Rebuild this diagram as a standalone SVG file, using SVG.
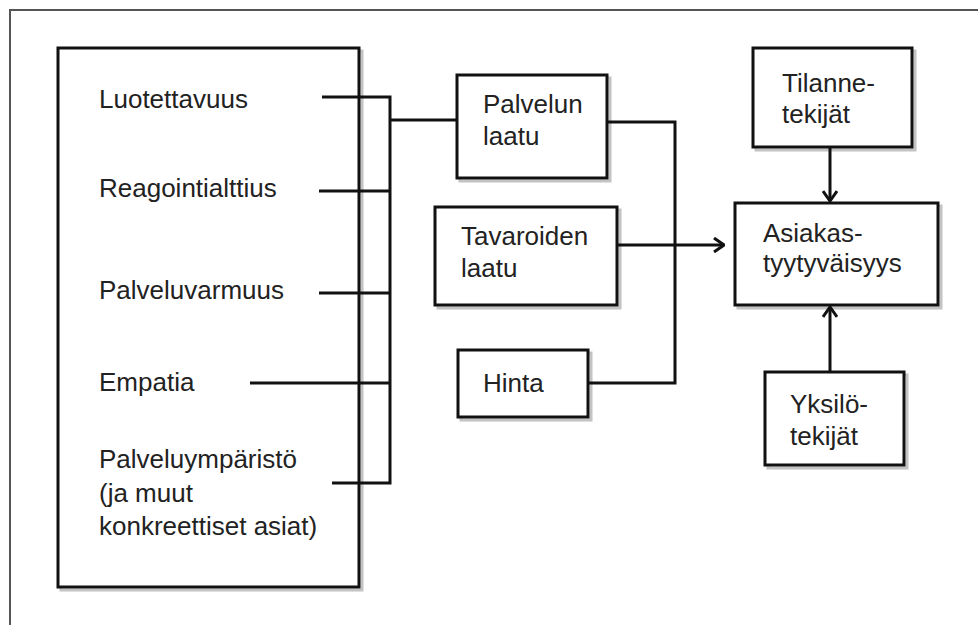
<svg xmlns="http://www.w3.org/2000/svg" width="978" height="625" viewBox="0 0 978 625">
<defs>
<style>
.box{fill:#fff;stroke:#111;stroke-width:3}
.sh{fill:none;stroke:#aaa;stroke-width:3;opacity:0.7}
.ln{fill:none;stroke:#111;stroke-width:3}
text{font-family:"Liberation Sans",Arial,sans-serif;font-size:26px;fill:#222}
</style>
<marker id="chev" viewBox="0 0 12 16" refX="11" refY="8" markerWidth="12" markerHeight="16" markerUnits="userSpaceOnUse" orient="auto">
<path d="M1,1 L11,8 L1,15" fill="none" stroke="#111" stroke-width="3"/>
</marker>
</defs>
<rect width="978" height="625" fill="#fff"/>
<path d="M10,625 V10 H978" fill="none" stroke="#555" stroke-width="2"/>

<g id="factors">
<rect class="sh" x="61" y="51" width="301" height="539"/>
<rect class="box" x="58" y="48" width="301" height="539"/>
<text x="99" y="108">Luotettavuus</text>
<text x="99" y="197">Reagointialttius</text>
<text x="99" y="299">Palveluvarmuus</text>
<text x="99" y="391">Empatia</text>
<text x="99" y="468">Palveluympäristö</text>
<text x="99" y="502">(ja muut</text>
<text x="99" y="535">konkreettiset asiat)</text>
</g>

<g id="palvelun-laatu">
<rect class="sh" x="460" y="78" width="150" height="103"/>
<rect class="box" x="457" y="75" width="150" height="103"/>
<text x="483" y="113">Palvelun</text>
<text x="483" y="145">laatu</text>
</g>

<g id="tavaroiden-laatu">
<rect class="sh" x="438" y="210" width="182" height="98"/>
<rect class="box" x="435" y="207" width="182" height="98"/>
<text x="461" y="245">Tavaroiden</text>
<text x="461" y="277">laatu</text>
</g>

<g id="hinta">
<rect class="sh" x="461" y="353" width="130" height="67"/>
<rect class="box" x="458" y="350" width="130" height="67"/>
<text x="483" y="392">Hinta</text>
</g>

<g id="tilannetekijat">
<rect class="sh" x="756" y="51" width="159" height="99"/>
<rect class="box" x="753" y="48" width="159" height="99"/>
<text x="782" y="92">Tilanne-</text>
<text x="782" y="123">tekijät</text>
</g>

<g id="asiakastyytyvaisyys">
<rect class="sh" x="738" y="206" width="203" height="102"/>
<rect class="box" x="735" y="203" width="203" height="102"/>
<text x="763" y="242">Asiakas-</text>
<text x="763" y="272">tyytyväisyys</text>
</g>

<g id="yksilotekijat">
<rect class="sh" x="768" y="375" width="139" height="93"/>
<rect class="box" x="765" y="372" width="139" height="93"/>
<text x="790" y="413">Yksilö-</text>
<text x="790" y="445">tekijät</text>
</g>

<g id="connectors">
<path class="ln" d="M322,97 H390 M319,191 H390 M319,293 H390 M250,383 H390 M332,483 H390 M390,95.5 V484.5 M390,120 H457"/>
<path class="ln" d="M607,122 H675 V383 H588"/>
<path class="ln" d="M617,245 H724" marker-end="url(#chev)"/>
<path class="ln" d="M830,147 V201" marker-end="url(#chev)"/>
<path class="ln" d="M830,372 V307" marker-end="url(#chev)"/>
</g>
</svg>
